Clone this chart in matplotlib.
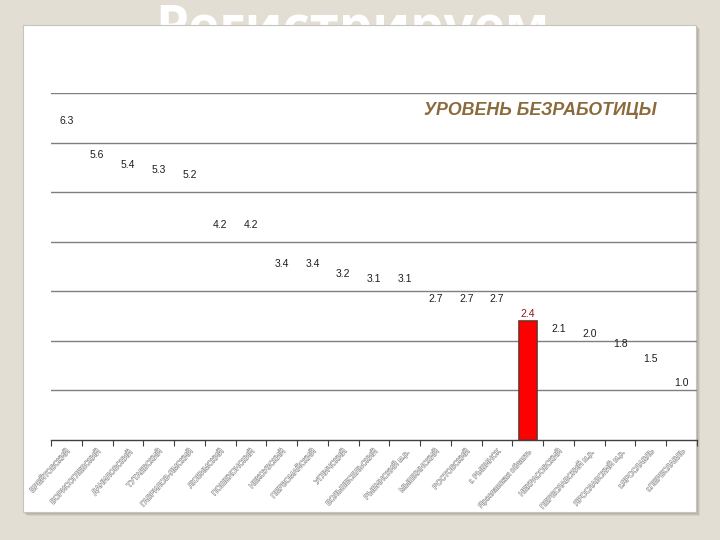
import matplotlib
matplotlib.use("Agg")
import matplotlib.pyplot as plt
from matplotlib.patches import Rectangle
import matplotlib.patheffects as pe
import numpy as np

categories = ["БРЕЙТОВСКИЙ", "БОРИСОГЛЕБСКИЙ", "ДАНИЛОВСКИЙ", "ТУТАЕВСКИЙ",
              "ГАВРИЛОВ-ЯМСКИЙ", "ЛЮБИМСКИЙ", "ПОШЕХОНСКИЙ", "НЕКОУЗСКИЙ",
              "ПЕРВОМАЙСКИЙ", "УГЛИЧСКИЙ", "БОЛЬШЕСЕЛЬСКИЙ", "РЫБИНСКИЙ м.р.",
              "МЫШКИНСКИЙ", "РОСТОВСКИЙ", "г. РЫБИНСК", "Ярославская область",
              "НЕКРАСОВСКИЙ", "ПЕРЕСЛАВСКИЙ м.р.", "ЯРОСЛАВСКИЙ м.р.",
              "г.ЯРОСЛАВЛЬ", "г.ПЕРЕСЛАВЛЬ"]
values = [6.3, 5.6, 5.4, 5.3, 5.2, 4.2, 4.2, 3.4, 3.4, 3.2, 3.1, 3.1,
          2.7, 2.7, 2.7, 2.4, 2.1, 2.0, 1.8, 1.5, 1.0]
highlight = "Ярославская область"
title = "УРОВЕНЬ БЕЗРАБОТИЦЫ"
header = "Регистрируем"

bg = "#E3DED3"
fig = plt.figure(figsize=(7.2, 5.4), dpi=100, facecolor=bg)

# big header partly hidden behind the panel
fig.text(0.489, 0.918, header, ha="center", va="baseline", fontsize=38,
         fontweight="bold", color="white", family="Open Sans", zorder=1)

# panel shadow + panel
px0, py0, pw, ph = 23 / 720, 1 - 512 / 540, 673 / 720, 487 / 540
for i, (dx, a) in enumerate([(4, 0.25), (3, 0.35), (2, 0.5)]):
    fig.patches.append(Rectangle((px0 + dx / 720, py0 - dx / 540), pw, ph,
                                 transform=fig.transFigure, facecolor="#A9A49A",
                                 alpha=a, edgecolor="none", zorder=1.5 + i * 0.01))
fig.patches.append(Rectangle((px0, py0), pw, ph, transform=fig.transFigure,
                             facecolor="white", edgecolor="#C8C4BC", lw=0.8,
                             zorder=2))

ax = fig.add_axes([51 / 720, 1 - 440 / 540, 646 / 720, 347 / 540])
ax.set_zorder(3)
ax.patch.set_alpha(0)

x = np.arange(len(categories))
face = ["#FF0000" if c == highlight else "none" for c in categories]
edge = ["#7A2E22" if c == highlight else "none" for c in categories]
ax.bar(x, values, width=0.6, color=face, edgecolor=edge, linewidth=1.2, zorder=3)

for xi, v, c in zip(x, values, categories):
    col = "#8B1A1A" if c == highlight else "#1E1E1E"
    ax.annotate(f"{v:.1f}", (xi, v), xytext=(0, 1.5), textcoords="offset points",
                ha="center", va="bottom", fontsize=7.5, color=col,
                family="Liberation Sans", zorder=4)

ax.set_xlim(-0.5, len(categories) - 0.5)
ax.set_ylim(0, 7)
ax.set_yticks(np.arange(1, 8))
ax.yaxis.grid(True, color="#7F7F7F", linewidth=1.0)
ax.set_axisbelow(True)
ax.tick_params(axis="y", left=False, labelleft=False)
for s in ["left", "right", "top"]:
    ax.spines[s].set_visible(False)
ax.spines["bottom"].set_color("#404040")
ax.spines["bottom"].set_linewidth(1.0)

ax.set_xticks(np.arange(len(categories) + 1) - 0.5)
ax.set_xticklabels([])
ax.tick_params(axis="x", direction="out", length=4, color="#404040")
ax.set_xticks(x, minor=True)
ax.set_xticklabels(categories, minor=True, rotation=48, ha="right",
                   rotation_mode="anchor", fontsize=5.4, color="white",
                   family="Liberation Sans")
ax.tick_params(axis="x", which="minor", length=0, pad=6)
for t in ax.get_xticklabels(minor=True):
    t.set_path_effects([pe.withStroke(linewidth=0.8, foreground="#999999")])

ax.text(0.757, 0.95, title, transform=ax.transAxes, ha="center", va="center",
        fontsize=12.8, fontweight="bold", fontstyle="italic", color="#8B6A3C",
        family="Liberation Sans")

fig.savefig("out.png", dpi=100, facecolor=bg)
